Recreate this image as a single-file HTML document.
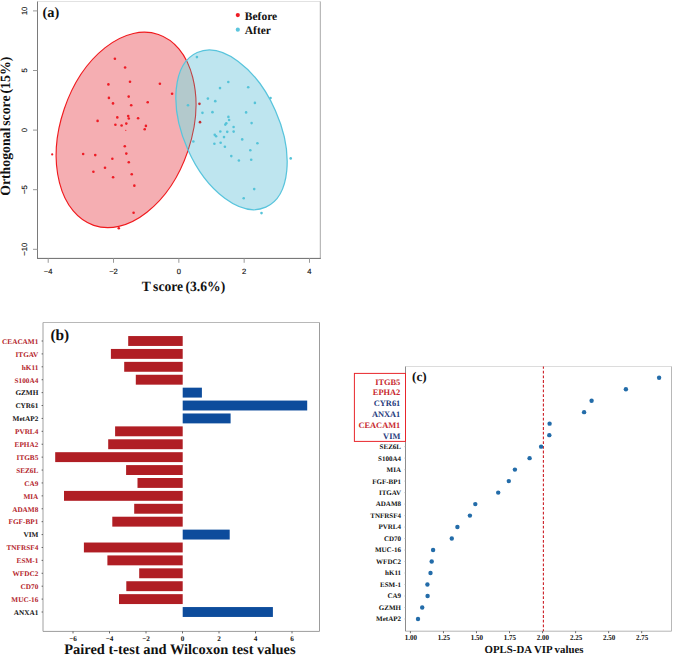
<!DOCTYPE html>
<html><head><meta charset="utf-8"><style>
html,body{margin:0;padding:0;background:#fff;}
body{width:673px;height:655px;overflow:hidden;}
svg{display:block;} text{text-rendering:geometricPrecision;}
</style></head><body>
<svg width="673" height="655" viewBox="0 0 673 655">
<rect width="673" height="655" fill="#fff"/>
<defs><clipPath id="cpR"><ellipse cx="126.07" cy="129.93" rx="65.31" ry="100.78" transform="rotate(18.72 126.07 129.93)"/></clipPath><clipPath id="cpC"><ellipse cx="231.51" cy="129.82" rx="47.94" ry="84.61" transform="rotate(-23.91 231.51 129.82)"/></clipPath></defs>
<ellipse cx="126.07" cy="129.93" rx="65.31" ry="100.78" transform="rotate(18.72 126.07 129.93)" fill="#f5aeb2"/>
<circle cx="52.2" cy="154.4" r="1.1" fill="#ee1c25"/>
<circle cx="125.8" cy="130.3" r="0.6" fill="#ee1c25"/>
<circle cx="114.9" cy="58.7" r="1.3" fill="#ee1c25"/>
<circle cx="125.1" cy="67.5" r="1.3" fill="#ee1c25"/>
<circle cx="108.4" cy="84.4" r="1.3" fill="#ee1c25"/>
<circle cx="130" cy="81.8" r="1.3" fill="#ee1c25"/>
<circle cx="108.9" cy="97.9" r="1.3" fill="#ee1c25"/>
<circle cx="128.7" cy="96.6" r="1.3" fill="#ee1c25"/>
<circle cx="113" cy="103.4" r="1.3" fill="#ee1c25"/>
<circle cx="159.9" cy="83.7" r="1.3" fill="#ee1c25"/>
<circle cx="172.1" cy="93.8" r="1.3" fill="#ee1c25"/>
<circle cx="147.7" cy="102.3" r="1.3" fill="#ee1c25"/>
<circle cx="131.2" cy="105.2" r="1.3" fill="#ee1c25"/>
<circle cx="138.1" cy="118.3" r="1.3" fill="#ee1c25"/>
<circle cx="145.9" cy="125.9" r="1.3" fill="#ee1c25"/>
<circle cx="144.7" cy="129.2" r="1.3" fill="#ee1c25"/>
<circle cx="131.75" cy="174.2" r="1.3" fill="#ee1c25"/>
<circle cx="134.35" cy="185.65" r="1.3" fill="#ee1c25"/>
<circle cx="117.3" cy="117.4" r="1.3" fill="#ee1c25"/>
<circle cx="128.2" cy="116.1" r="1.3" fill="#ee1c25"/>
<circle cx="128.8" cy="118.5" r="1.3" fill="#ee1c25"/>
<circle cx="97.6" cy="120.9" r="1.3" fill="#ee1c25"/>
<circle cx="115.4" cy="124.7" r="1.3" fill="#ee1c25"/>
<circle cx="121.6" cy="125.5" r="1.3" fill="#ee1c25"/>
<circle cx="126.3" cy="123.6" r="1.3" fill="#ee1c25"/>
<circle cx="124.8" cy="146.3" r="1.3" fill="#ee1c25"/>
<circle cx="126.3" cy="153.6" r="1.3" fill="#ee1c25"/>
<circle cx="83.15" cy="154" r="1.3" fill="#ee1c25"/>
<circle cx="95.25" cy="155.1" r="1.3" fill="#ee1c25"/>
<circle cx="112.35" cy="158.8" r="1.3" fill="#ee1c25"/>
<circle cx="128.8" cy="162.25" r="1.3" fill="#ee1c25"/>
<circle cx="105" cy="167.7" r="1.3" fill="#ee1c25"/>
<circle cx="93.4" cy="171.7" r="1.3" fill="#ee1c25"/>
<circle cx="113.1" cy="177.2" r="1.3" fill="#ee1c25"/>
<circle cx="118.8" cy="228.3" r="1.3" fill="#ee1c25"/>
<circle cx="133.6" cy="212.7" r="1.3" fill="#ee1c25"/>
<ellipse cx="126.07" cy="129.93" rx="65.31" ry="100.78" transform="rotate(18.72 126.07 129.93)" fill="none" stroke="#f01a1e" stroke-width="1.15"/>
<ellipse cx="231.51" cy="129.82" rx="47.94" ry="84.61" transform="rotate(-23.91 231.51 129.82)" fill="#bee5ef"/>
<g clip-path="url(#cpR)"><ellipse cx="231.51" cy="129.82" rx="47.94" ry="84.61" transform="rotate(-23.91 231.51 129.82)" fill="#b3c9cc"/></g>
<g clip-path="url(#cpC)"><ellipse cx="126.07" cy="129.93" rx="65.31" ry="100.78" transform="rotate(18.72 126.07 129.93)" fill="none" stroke="#bf4548" stroke-width="1.1"/></g>
<circle cx="199.45" cy="103.85" r="1.3" fill="#c42e32"/>
<circle cx="200" cy="122.15" r="1.3" fill="#c42e32"/>
<circle cx="196.9" cy="57.1" r="1.3" fill="#55c3d8"/>
<circle cx="188" cy="105.2" r="1.3" fill="#55c3d8"/>
<circle cx="207.9" cy="98.6" r="1.3" fill="#55c3d8"/>
<circle cx="202.45" cy="112.85" r="1.3" fill="#55c3d8"/>
<circle cx="193.35" cy="141.5" r="1.3" fill="#55c3d8"/>
<circle cx="228.3" cy="82" r="1.3" fill="#55c3d8"/>
<circle cx="220" cy="88.1" r="1.3" fill="#55c3d8"/>
<circle cx="248.2" cy="87.3" r="1.3" fill="#55c3d8"/>
<circle cx="270.5" cy="98" r="1.3" fill="#55c3d8"/>
<circle cx="215.25" cy="101.15" r="1.3" fill="#55c3d8"/>
<circle cx="254.9" cy="102.9" r="1.3" fill="#55c3d8"/>
<circle cx="212.45" cy="112.15" r="1.3" fill="#55c3d8"/>
<circle cx="246.1" cy="112.4" r="1.3" fill="#55c3d8"/>
<circle cx="228.4" cy="116.9" r="1.3" fill="#55c3d8"/>
<circle cx="229.1" cy="120" r="1.3" fill="#55c3d8"/>
<circle cx="226.3" cy="123.3" r="1.3" fill="#55c3d8"/>
<circle cx="225.3" cy="124.6" r="1.3" fill="#55c3d8"/>
<circle cx="251.6" cy="123.1" r="1.3" fill="#55c3d8"/>
<circle cx="233.6" cy="127.05" r="1.3" fill="#55c3d8"/>
<circle cx="220.3" cy="131.5" r="1.3" fill="#55c3d8"/>
<circle cx="227.25" cy="131.85" r="1.3" fill="#55c3d8"/>
<circle cx="233.65" cy="131.6" r="1.3" fill="#55c3d8"/>
<circle cx="214.75" cy="134.7" r="1.3" fill="#55c3d8"/>
<circle cx="216.1" cy="136.2" r="1.3" fill="#55c3d8"/>
<circle cx="224" cy="137.1" r="1.3" fill="#55c3d8"/>
<circle cx="242.2" cy="139.4" r="1.3" fill="#55c3d8"/>
<circle cx="214.4" cy="143.8" r="1.3" fill="#55c3d8"/>
<circle cx="220.65" cy="142.75" r="1.3" fill="#55c3d8"/>
<circle cx="224.9" cy="146.7" r="1.3" fill="#55c3d8"/>
<circle cx="257.4" cy="143.3" r="1.3" fill="#55c3d8"/>
<circle cx="250.3" cy="150.3" r="1.3" fill="#55c3d8"/>
<circle cx="231.3" cy="156.1" r="1.3" fill="#55c3d8"/>
<circle cx="238.9" cy="160.5" r="1.3" fill="#55c3d8"/>
<circle cx="251.2" cy="159.8" r="1.3" fill="#55c3d8"/>
<circle cx="290.7" cy="158.4" r="1.3" fill="#55c3d8"/>
<circle cx="254.2" cy="189.1" r="1.3" fill="#55c3d8"/>
<circle cx="243.7" cy="198.3" r="1.3" fill="#55c3d8"/>
<circle cx="261.5" cy="213.1" r="1.3" fill="#55c3d8"/>
<ellipse cx="231.51" cy="129.82" rx="47.94" ry="84.61" transform="rotate(-23.91 231.51 129.82)" fill="none" stroke="#58c4dc" stroke-width="1.25"/>
<line x1="37.5" y1="1.5" x2="320.3" y2="1.5" stroke="#e2e2e2" stroke-width="1"/>
<line x1="320.3" y1="1.5" x2="320.3" y2="258.4" stroke="#a8a8a8" stroke-width="1"/>
<line x1="37.5" y1="1.5" x2="37.5" y2="258.9" stroke="#7a7a7a" stroke-width="1"/>
<line x1="37.5" y1="258.4" x2="320.8" y2="258.4" stroke="#6a6a6a" stroke-width="1"/>
<line x1="33" y1="10.90" x2="37.5" y2="10.90" stroke="#999" stroke-width="1"/>
<text x="0" y="0" transform="translate(27.0 10.90) rotate(-90)" text-anchor="middle" font-family='"Liberation Sans", sans-serif' font-size="7.6" fill="#111" stroke="#111" stroke-width="0.15">10</text>
<line x1="33" y1="70.50" x2="37.5" y2="70.50" stroke="#999" stroke-width="1"/>
<text x="0" y="0" transform="translate(27.0 70.50) rotate(-90)" text-anchor="middle" font-family='"Liberation Sans", sans-serif' font-size="7.6" fill="#111" stroke="#111" stroke-width="0.15">5</text>
<line x1="33" y1="130.10" x2="37.5" y2="130.10" stroke="#999" stroke-width="1"/>
<text x="0" y="0" transform="translate(27.0 130.10) rotate(-90)" text-anchor="middle" font-family='"Liberation Sans", sans-serif' font-size="7.6" fill="#111" stroke="#111" stroke-width="0.15">0</text>
<line x1="33" y1="189.70" x2="37.5" y2="189.70" stroke="#999" stroke-width="1"/>
<text x="0" y="0" transform="translate(27.0 189.70) rotate(-90)" text-anchor="middle" font-family='"Liberation Sans", sans-serif' font-size="7.6" fill="#111" stroke="#111" stroke-width="0.15">−5</text>
<line x1="33" y1="249.30" x2="37.5" y2="249.30" stroke="#999" stroke-width="1"/>
<text x="0" y="0" transform="translate(27.0 249.30) rotate(-90)" text-anchor="middle" font-family='"Liberation Sans", sans-serif' font-size="7.6" fill="#111" stroke="#111" stroke-width="0.15">−10</text>
<line x1="48.21" y1="258.4" x2="48.21" y2="262.8" stroke="#999" stroke-width="1"/>
<text x="48.21" y="273.7" text-anchor="middle" font-family='"Liberation Sans", sans-serif' font-size="7.6" fill="#111" stroke="#111" stroke-width="0.15">−4</text>
<line x1="113.53" y1="258.4" x2="113.53" y2="262.8" stroke="#999" stroke-width="1"/>
<text x="113.53" y="273.7" text-anchor="middle" font-family='"Liberation Sans", sans-serif' font-size="7.6" fill="#111" stroke="#111" stroke-width="0.15">−2</text>
<line x1="178.85" y1="258.4" x2="178.85" y2="262.8" stroke="#999" stroke-width="1"/>
<text x="178.85" y="273.7" text-anchor="middle" font-family='"Liberation Sans", sans-serif' font-size="7.6" fill="#111" stroke="#111" stroke-width="0.15">0</text>
<line x1="244.17" y1="258.4" x2="244.17" y2="262.8" stroke="#999" stroke-width="1"/>
<text x="244.17" y="273.7" text-anchor="middle" font-family='"Liberation Sans", sans-serif' font-size="7.6" fill="#111" stroke="#111" stroke-width="0.15">2</text>
<line x1="309.49" y1="258.4" x2="309.49" y2="262.8" stroke="#999" stroke-width="1"/>
<text x="309.49" y="273.7" text-anchor="middle" font-family='"Liberation Sans", sans-serif' font-size="7.6" fill="#111" stroke="#111" stroke-width="0.15">4</text>
<text x="42.4" y="16.8" font-family='"Liberation Serif", serif' font-weight="bold" font-size="14.4" fill="#111">(a)</text>
<circle cx="237.8" cy="15.1" r="2.1" fill="#ee1c25"/>
<circle cx="237.8" cy="29.7" r="2.1" fill="#5cc5dd"/>
<text x="244.8" y="19.6" font-family='"Liberation Serif", serif' font-weight="bold" font-size="11.5" fill="#111">Before</text>
<text x="244.8" y="33.9" font-family='"Liberation Serif", serif' font-weight="bold" font-size="11.5" fill="#111">After</text>
<text x="0" y="0" transform="translate(141.8 291) scale(0.96 1)" font-family='"Liberation Serif", serif' font-weight="bold" font-size="14.2" word-spacing="-1" fill="#111">T score (3.6%)</text>
<text x="0" y="0" transform="translate(10.4 195.8) rotate(-90) scale(0.97 1)" font-family='"Liberation Serif", serif' font-weight="bold" font-size="14.2" word-spacing="-1.5" fill="#111">Orthogonal score (15%)</text>
<line x1="43.0" y1="322.5" x2="319.5" y2="322.5" stroke="#b8b8b8" stroke-width="1"/>
<line x1="319.5" y1="322.5" x2="319.5" y2="631.4" stroke="#9c9c9c" stroke-width="1"/>
<line x1="43.0" y1="322.5" x2="43.0" y2="631.4" stroke="#a0a0a0" stroke-width="1"/>
<line x1="43.0" y1="631.4" x2="319.5" y2="631.4" stroke="#9c9c9c" stroke-width="1"/>
<rect x="128.2" y="336.05" width="54.50" height="9.9" fill="#b01e24"/>
<line x1="41.6" y1="341.00" x2="43.0" y2="341.00" stroke="#444" stroke-width="0.8"/>
<text x="0" y="0" transform="translate(38.3 343.80) scale(1.02 1)" text-anchor="end" font-family='"Liberation Serif", serif' font-weight="bold" font-size="7.1" fill="#b3232a">CEACAM1</text>
<rect x="110.9" y="348.95" width="71.80" height="9.9" fill="#b01e24"/>
<line x1="41.6" y1="353.90" x2="43.0" y2="353.90" stroke="#444" stroke-width="0.8"/>
<text x="0" y="0" transform="translate(38.3 356.70) scale(1.02 1)" text-anchor="end" font-family='"Liberation Serif", serif' font-weight="bold" font-size="7.1" fill="#b3232a">ITGAV</text>
<rect x="124.2" y="361.86" width="58.50" height="9.9" fill="#b01e24"/>
<line x1="41.6" y1="366.81" x2="43.0" y2="366.81" stroke="#444" stroke-width="0.8"/>
<text x="0" y="0" transform="translate(38.3 369.61) scale(1.02 1)" text-anchor="end" font-family='"Liberation Serif", serif' font-weight="bold" font-size="7.1" fill="#b3232a">hK11</text>
<rect x="135.8" y="374.76" width="46.90" height="9.9" fill="#b01e24"/>
<line x1="41.6" y1="379.71" x2="43.0" y2="379.71" stroke="#444" stroke-width="0.8"/>
<text x="0" y="0" transform="translate(38.3 382.51) scale(1.02 1)" text-anchor="end" font-family='"Liberation Serif", serif' font-weight="bold" font-size="7.1" fill="#b3232a">S100A4</text>
<rect x="182.7" y="387.67" width="19.20" height="9.9" fill="#0d4c9c"/>
<line x1="41.6" y1="392.62" x2="43.0" y2="392.62" stroke="#444" stroke-width="0.8"/>
<text x="0" y="0" transform="translate(38.3 395.42) scale(1.02 1)" text-anchor="end" font-family='"Liberation Serif", serif' font-weight="bold" font-size="7.1" fill="#111">GZMH</text>
<rect x="182.7" y="400.57" width="124.50" height="9.9" fill="#0d4c9c"/>
<line x1="41.6" y1="405.52" x2="43.0" y2="405.52" stroke="#444" stroke-width="0.8"/>
<text x="0" y="0" transform="translate(38.3 408.32) scale(1.02 1)" text-anchor="end" font-family='"Liberation Serif", serif' font-weight="bold" font-size="7.1" fill="#111">CYR61</text>
<rect x="182.7" y="413.48" width="47.90" height="9.9" fill="#0d4c9c"/>
<line x1="41.6" y1="418.43" x2="43.0" y2="418.43" stroke="#444" stroke-width="0.8"/>
<text x="0" y="0" transform="translate(38.3 421.23) scale(1.02 1)" text-anchor="end" font-family='"Liberation Serif", serif' font-weight="bold" font-size="7.1" fill="#111">MetAP2</text>
<rect x="115.1" y="426.38" width="67.60" height="9.9" fill="#b01e24"/>
<line x1="41.6" y1="431.33" x2="43.0" y2="431.33" stroke="#444" stroke-width="0.8"/>
<text x="0" y="0" transform="translate(38.3 434.13) scale(1.02 1)" text-anchor="end" font-family='"Liberation Serif", serif' font-weight="bold" font-size="7.1" fill="#b3232a">PVRL4</text>
<rect x="108.2" y="439.29" width="74.50" height="9.9" fill="#b01e24"/>
<line x1="41.6" y1="444.24" x2="43.0" y2="444.24" stroke="#444" stroke-width="0.8"/>
<text x="0" y="0" transform="translate(38.3 447.04) scale(1.02 1)" text-anchor="end" font-family='"Liberation Serif", serif' font-weight="bold" font-size="7.1" fill="#b3232a">EPHA2</text>
<rect x="55.2" y="452.19" width="127.50" height="9.9" fill="#b01e24"/>
<line x1="41.6" y1="457.14" x2="43.0" y2="457.14" stroke="#444" stroke-width="0.8"/>
<text x="0" y="0" transform="translate(38.3 459.94) scale(1.02 1)" text-anchor="end" font-family='"Liberation Serif", serif' font-weight="bold" font-size="7.1" fill="#b3232a">ITGB5</text>
<rect x="126.1" y="465.10" width="56.60" height="9.9" fill="#b01e24"/>
<line x1="41.6" y1="470.05" x2="43.0" y2="470.05" stroke="#444" stroke-width="0.8"/>
<text x="0" y="0" transform="translate(38.3 472.85) scale(1.02 1)" text-anchor="end" font-family='"Liberation Serif", serif' font-weight="bold" font-size="7.1" fill="#b3232a">SEZ6L</text>
<rect x="137.5" y="478.00" width="45.20" height="9.9" fill="#b01e24"/>
<line x1="41.6" y1="482.95" x2="43.0" y2="482.95" stroke="#444" stroke-width="0.8"/>
<text x="0" y="0" transform="translate(38.3 485.75) scale(1.02 1)" text-anchor="end" font-family='"Liberation Serif", serif' font-weight="bold" font-size="7.1" fill="#b3232a">CA9</text>
<rect x="64.0" y="490.91" width="118.70" height="9.9" fill="#b01e24"/>
<line x1="41.6" y1="495.86" x2="43.0" y2="495.86" stroke="#444" stroke-width="0.8"/>
<text x="0" y="0" transform="translate(38.3 498.66) scale(1.02 1)" text-anchor="end" font-family='"Liberation Serif", serif' font-weight="bold" font-size="7.1" fill="#b3232a">MIA</text>
<rect x="134.2" y="503.81" width="48.50" height="9.9" fill="#b01e24"/>
<line x1="41.6" y1="508.76" x2="43.0" y2="508.76" stroke="#444" stroke-width="0.8"/>
<text x="0" y="0" transform="translate(38.3 511.56) scale(1.02 1)" text-anchor="end" font-family='"Liberation Serif", serif' font-weight="bold" font-size="7.1" fill="#b3232a">ADAM8</text>
<rect x="112.3" y="516.72" width="70.40" height="9.9" fill="#b01e24"/>
<line x1="41.6" y1="521.67" x2="43.0" y2="521.67" stroke="#444" stroke-width="0.8"/>
<text x="0" y="0" transform="translate(38.3 524.47) scale(1.02 1)" text-anchor="end" font-family='"Liberation Serif", serif' font-weight="bold" font-size="7.1" fill="#b3232a">FGF-BP1</text>
<rect x="182.7" y="529.62" width="47.00" height="9.9" fill="#0d4c9c"/>
<line x1="41.6" y1="534.58" x2="43.0" y2="534.58" stroke="#444" stroke-width="0.8"/>
<text x="0" y="0" transform="translate(38.3 537.38) scale(1.02 1)" text-anchor="end" font-family='"Liberation Serif", serif' font-weight="bold" font-size="7.1" fill="#111">VIM</text>
<rect x="83.9" y="542.53" width="98.80" height="9.9" fill="#b01e24"/>
<line x1="41.6" y1="547.48" x2="43.0" y2="547.48" stroke="#444" stroke-width="0.8"/>
<text x="0" y="0" transform="translate(38.3 550.28) scale(1.02 1)" text-anchor="end" font-family='"Liberation Serif", serif' font-weight="bold" font-size="7.1" fill="#b3232a">TNFRSF4</text>
<rect x="107.4" y="555.43" width="75.30" height="9.9" fill="#b01e24"/>
<line x1="41.6" y1="560.38" x2="43.0" y2="560.38" stroke="#444" stroke-width="0.8"/>
<text x="0" y="0" transform="translate(38.3 563.18) scale(1.02 1)" text-anchor="end" font-family='"Liberation Serif", serif' font-weight="bold" font-size="7.1" fill="#b3232a">ESM-1</text>
<rect x="139.2" y="568.34" width="43.50" height="9.9" fill="#b01e24"/>
<line x1="41.6" y1="573.29" x2="43.0" y2="573.29" stroke="#444" stroke-width="0.8"/>
<text x="0" y="0" transform="translate(38.3 576.09) scale(1.02 1)" text-anchor="end" font-family='"Liberation Serif", serif' font-weight="bold" font-size="7.1" fill="#b3232a">WFDC2</text>
<rect x="126.3" y="581.24" width="56.40" height="9.9" fill="#b01e24"/>
<line x1="41.6" y1="586.19" x2="43.0" y2="586.19" stroke="#444" stroke-width="0.8"/>
<text x="0" y="0" transform="translate(38.3 588.99) scale(1.02 1)" text-anchor="end" font-family='"Liberation Serif", serif' font-weight="bold" font-size="7.1" fill="#b3232a">CD70</text>
<rect x="119.0" y="594.15" width="63.70" height="9.9" fill="#b01e24"/>
<line x1="41.6" y1="599.10" x2="43.0" y2="599.10" stroke="#444" stroke-width="0.8"/>
<text x="0" y="0" transform="translate(38.3 601.90) scale(1.02 1)" text-anchor="end" font-family='"Liberation Serif", serif' font-weight="bold" font-size="7.1" fill="#b3232a">MUC-16</text>
<rect x="182.7" y="607.05" width="90.20" height="9.9" fill="#0d4c9c"/>
<line x1="41.6" y1="612.00" x2="43.0" y2="612.00" stroke="#444" stroke-width="0.8"/>
<text x="0" y="0" transform="translate(38.3 614.80) scale(1.02 1)" text-anchor="end" font-family='"Liberation Serif", serif' font-weight="bold" font-size="7.1" fill="#111">ANXA1</text>
<line x1="73.00" y1="631.4" x2="73.00" y2="633.4" stroke="#444" stroke-width="0.8"/>
<text x="73.00" y="640.6" text-anchor="middle" font-family='"Liberation Serif", serif' font-weight="bold" font-size="7.2" fill="#111">−6</text>
<line x1="109.50" y1="631.4" x2="109.50" y2="633.4" stroke="#444" stroke-width="0.8"/>
<text x="109.50" y="640.6" text-anchor="middle" font-family='"Liberation Serif", serif' font-weight="bold" font-size="7.2" fill="#111">−4</text>
<line x1="146.00" y1="631.4" x2="146.00" y2="633.4" stroke="#444" stroke-width="0.8"/>
<text x="146.00" y="640.6" text-anchor="middle" font-family='"Liberation Serif", serif' font-weight="bold" font-size="7.2" fill="#111">−2</text>
<line x1="182.50" y1="631.4" x2="182.50" y2="633.4" stroke="#444" stroke-width="0.8"/>
<text x="182.50" y="640.6" text-anchor="middle" font-family='"Liberation Serif", serif' font-weight="bold" font-size="7.2" fill="#111">0</text>
<line x1="219.00" y1="631.4" x2="219.00" y2="633.4" stroke="#444" stroke-width="0.8"/>
<text x="219.00" y="640.6" text-anchor="middle" font-family='"Liberation Serif", serif' font-weight="bold" font-size="7.2" fill="#111">2</text>
<line x1="255.50" y1="631.4" x2="255.50" y2="633.4" stroke="#444" stroke-width="0.8"/>
<text x="255.50" y="640.6" text-anchor="middle" font-family='"Liberation Serif", serif' font-weight="bold" font-size="7.2" fill="#111">4</text>
<line x1="292.00" y1="631.4" x2="292.00" y2="633.4" stroke="#444" stroke-width="0.8"/>
<text x="292.00" y="640.6" text-anchor="middle" font-family='"Liberation Serif", serif' font-weight="bold" font-size="7.2" fill="#111">6</text>
<text x="50.4" y="339.5" font-family='"Liberation Serif", serif' font-weight="bold" font-size="15.4" fill="#111">(b)</text>
<text x="64.2" y="654.2" font-family='"Liberation Serif", serif' font-weight="bold" font-size="14.45" fill="#111">Paired t-test and Wilcoxon test values</text>
<line x1="405.5" y1="366.5" x2="671.5" y2="366.5" stroke="#dcdcdc" stroke-width="1"/>
<line x1="671.5" y1="366.5" x2="671.5" y2="631.2" stroke="#b8b8b8" stroke-width="1"/>
<line x1="405.5" y1="631.2" x2="671.5" y2="631.2" stroke="#b4b4b4" stroke-width="1"/>
<line x1="405.5" y1="366.5" x2="405.5" y2="631.2" stroke="#8c8c8c" stroke-width="1"/>
<line x1="543.4" y1="366.5" x2="543.4" y2="631.2" stroke="#cc1f26" stroke-width="1.1" stroke-dasharray="2.8 1.9" stroke-dashoffset="0.5"/>
<circle cx="659.1" cy="377.70" r="2.2" fill="#236ca9"/>
<circle cx="625.9" cy="389.19" r="2.2" fill="#236ca9"/>
<circle cx="591.6" cy="400.68" r="2.2" fill="#236ca9"/>
<circle cx="584.1" cy="412.17" r="2.2" fill="#236ca9"/>
<circle cx="549.6" cy="423.66" r="2.2" fill="#236ca9"/>
<circle cx="549.3" cy="435.15" r="2.2" fill="#236ca9"/>
<circle cx="541.1" cy="446.64" r="2.2" fill="#236ca9"/>
<line x1="404.4" y1="446.64" x2="405.5" y2="446.64" stroke="#aaa" stroke-width="0.7"/>
<text x="401.0" y="449.04" text-anchor="end" font-family='"Liberation Serif", serif' font-weight="bold" font-size="7.0" fill="#111">SEZ6L</text>
<circle cx="529.6" cy="458.13" r="2.2" fill="#236ca9"/>
<line x1="404.4" y1="458.13" x2="405.5" y2="458.13" stroke="#aaa" stroke-width="0.7"/>
<text x="401.0" y="460.53" text-anchor="end" font-family='"Liberation Serif", serif' font-weight="bold" font-size="7.0" fill="#111">S100A4</text>
<circle cx="514.9" cy="469.62" r="2.2" fill="#236ca9"/>
<line x1="404.4" y1="469.62" x2="405.5" y2="469.62" stroke="#aaa" stroke-width="0.7"/>
<text x="401.0" y="472.02" text-anchor="end" font-family='"Liberation Serif", serif' font-weight="bold" font-size="7.0" fill="#111">MIA</text>
<circle cx="508.8" cy="481.11" r="2.2" fill="#236ca9"/>
<line x1="404.4" y1="481.11" x2="405.5" y2="481.11" stroke="#aaa" stroke-width="0.7"/>
<text x="401.0" y="483.51" text-anchor="end" font-family='"Liberation Serif", serif' font-weight="bold" font-size="7.0" fill="#111">FGF-BP1</text>
<circle cx="498.2" cy="492.60" r="2.2" fill="#236ca9"/>
<line x1="404.4" y1="492.60" x2="405.5" y2="492.60" stroke="#aaa" stroke-width="0.7"/>
<text x="401.0" y="495.00" text-anchor="end" font-family='"Liberation Serif", serif' font-weight="bold" font-size="7.0" fill="#111">ITGAV</text>
<circle cx="475.3" cy="504.09" r="2.2" fill="#236ca9"/>
<line x1="404.4" y1="504.09" x2="405.5" y2="504.09" stroke="#aaa" stroke-width="0.7"/>
<text x="401.0" y="506.49" text-anchor="end" font-family='"Liberation Serif", serif' font-weight="bold" font-size="7.0" fill="#111">ADAM8</text>
<circle cx="469.9" cy="515.58" r="2.2" fill="#236ca9"/>
<line x1="404.4" y1="515.58" x2="405.5" y2="515.58" stroke="#aaa" stroke-width="0.7"/>
<text x="401.0" y="517.98" text-anchor="end" font-family='"Liberation Serif", serif' font-weight="bold" font-size="7.0" fill="#111">TNFRSF4</text>
<circle cx="457.4" cy="527.07" r="2.2" fill="#236ca9"/>
<line x1="404.4" y1="527.07" x2="405.5" y2="527.07" stroke="#aaa" stroke-width="0.7"/>
<text x="401.0" y="529.47" text-anchor="end" font-family='"Liberation Serif", serif' font-weight="bold" font-size="7.0" fill="#111">PVRL4</text>
<circle cx="451.8" cy="538.56" r="2.2" fill="#236ca9"/>
<line x1="404.4" y1="538.56" x2="405.5" y2="538.56" stroke="#aaa" stroke-width="0.7"/>
<text x="401.0" y="540.96" text-anchor="end" font-family='"Liberation Serif", serif' font-weight="bold" font-size="7.0" fill="#111">CD70</text>
<circle cx="433.1" cy="550.05" r="2.2" fill="#236ca9"/>
<line x1="404.4" y1="550.05" x2="405.5" y2="550.05" stroke="#aaa" stroke-width="0.7"/>
<text x="401.0" y="552.45" text-anchor="end" font-family='"Liberation Serif", serif' font-weight="bold" font-size="7.0" fill="#111">MUC-16</text>
<circle cx="431.7" cy="561.54" r="2.2" fill="#236ca9"/>
<line x1="404.4" y1="561.54" x2="405.5" y2="561.54" stroke="#aaa" stroke-width="0.7"/>
<text x="401.0" y="563.94" text-anchor="end" font-family='"Liberation Serif", serif' font-weight="bold" font-size="7.0" fill="#111">WFDC2</text>
<circle cx="430.5" cy="573.03" r="2.2" fill="#236ca9"/>
<line x1="404.4" y1="573.03" x2="405.5" y2="573.03" stroke="#aaa" stroke-width="0.7"/>
<text x="401.0" y="575.43" text-anchor="end" font-family='"Liberation Serif", serif' font-weight="bold" font-size="7.0" fill="#111">hK11</text>
<circle cx="427.4" cy="584.52" r="2.2" fill="#236ca9"/>
<line x1="404.4" y1="584.52" x2="405.5" y2="584.52" stroke="#aaa" stroke-width="0.7"/>
<text x="401.0" y="586.92" text-anchor="end" font-family='"Liberation Serif", serif' font-weight="bold" font-size="7.0" fill="#111">ESM-1</text>
<circle cx="427.6" cy="596.01" r="2.2" fill="#236ca9"/>
<line x1="404.4" y1="596.01" x2="405.5" y2="596.01" stroke="#aaa" stroke-width="0.7"/>
<text x="401.0" y="598.41" text-anchor="end" font-family='"Liberation Serif", serif' font-weight="bold" font-size="7.0" fill="#111">CA9</text>
<circle cx="422.2" cy="607.50" r="2.2" fill="#236ca9"/>
<line x1="404.4" y1="607.50" x2="405.5" y2="607.50" stroke="#aaa" stroke-width="0.7"/>
<text x="401.0" y="609.90" text-anchor="end" font-family='"Liberation Serif", serif' font-weight="bold" font-size="7.0" fill="#111">GZMH</text>
<circle cx="418.0" cy="618.99" r="2.2" fill="#236ca9"/>
<line x1="404.4" y1="618.99" x2="405.5" y2="618.99" stroke="#aaa" stroke-width="0.7"/>
<text x="401.0" y="621.39" text-anchor="end" font-family='"Liberation Serif", serif' font-weight="bold" font-size="7.0" fill="#111">MetAP2</text>
<line x1="410.40" y1="631.2" x2="410.40" y2="633.2" stroke="#444" stroke-width="0.8"/>
<text x="0" y="0" transform="translate(410.80 640.2) scale(0.92 1)" text-anchor="middle" font-family='"Liberation Serif", serif' font-weight="bold" font-size="7.6" fill="#111">1.00</text>
<line x1="443.44" y1="631.2" x2="443.44" y2="633.2" stroke="#444" stroke-width="0.8"/>
<text x="0" y="0" transform="translate(443.84 640.2) scale(0.92 1)" text-anchor="middle" font-family='"Liberation Serif", serif' font-weight="bold" font-size="7.6" fill="#111">1.25</text>
<line x1="476.48" y1="631.2" x2="476.48" y2="633.2" stroke="#444" stroke-width="0.8"/>
<text x="0" y="0" transform="translate(476.88 640.2) scale(0.92 1)" text-anchor="middle" font-family='"Liberation Serif", serif' font-weight="bold" font-size="7.6" fill="#111">1.50</text>
<line x1="509.53" y1="631.2" x2="509.53" y2="633.2" stroke="#444" stroke-width="0.8"/>
<text x="0" y="0" transform="translate(509.93 640.2) scale(0.92 1)" text-anchor="middle" font-family='"Liberation Serif", serif' font-weight="bold" font-size="7.6" fill="#111">1.75</text>
<line x1="542.57" y1="631.2" x2="542.57" y2="633.2" stroke="#444" stroke-width="0.8"/>
<text x="0" y="0" transform="translate(542.97 640.2) scale(0.92 1)" text-anchor="middle" font-family='"Liberation Serif", serif' font-weight="bold" font-size="7.6" fill="#111">2.00</text>
<line x1="575.61" y1="631.2" x2="575.61" y2="633.2" stroke="#444" stroke-width="0.8"/>
<text x="0" y="0" transform="translate(576.01 640.2) scale(0.92 1)" text-anchor="middle" font-family='"Liberation Serif", serif' font-weight="bold" font-size="7.6" fill="#111">2.25</text>
<line x1="608.65" y1="631.2" x2="608.65" y2="633.2" stroke="#444" stroke-width="0.8"/>
<text x="0" y="0" transform="translate(609.05 640.2) scale(0.92 1)" text-anchor="middle" font-family='"Liberation Serif", serif' font-weight="bold" font-size="7.6" fill="#111">2.50</text>
<line x1="641.70" y1="631.2" x2="641.70" y2="633.2" stroke="#444" stroke-width="0.8"/>
<text x="0" y="0" transform="translate(642.10 640.2) scale(0.92 1)" text-anchor="middle" font-family='"Liberation Serif", serif' font-weight="bold" font-size="7.6" fill="#111">2.75</text>
<rect x="354.4" y="373.4" width="51.10000000000002" height="68.0" fill="none" stroke="#e8262c" stroke-width="1"/>
<text x="400.3" y="385.00" text-anchor="end" font-family='"Liberation Serif", serif' font-weight="bold" font-size="8.4" fill="#c8282d">ITGB5</text>
<text x="400.3" y="395.40" text-anchor="end" font-family='"Liberation Serif", serif' font-weight="bold" font-size="8.4" fill="#c8282d">EPHA2</text>
<text x="400.3" y="406.10" text-anchor="end" font-family='"Liberation Serif", serif' font-weight="bold" font-size="8.4" fill="#1f3a7c">CYR61</text>
<text x="400.3" y="416.80" text-anchor="end" font-family='"Liberation Serif", serif' font-weight="bold" font-size="8.4" fill="#1f3a7c">ANXA1</text>
<text x="400.3" y="427.60" text-anchor="end" font-family='"Liberation Serif", serif' font-weight="bold" font-size="8.4" fill="#c8282d">CEACAM1</text>
<text x="400.3" y="438.50" text-anchor="end" font-family='"Liberation Serif", serif' font-weight="bold" font-size="8.4" fill="#1f3a7c">VIM</text>
<text x="412.1" y="381" font-family='"Liberation Serif", serif' font-weight="bold" font-size="13.2" fill="#111">(c)</text>
<text x="484.6" y="653.1" font-family='"Liberation Serif", serif' font-weight="bold" font-size="10.8" fill="#111">OPLS-DA VIP values</text>
</svg>
</body></html>
